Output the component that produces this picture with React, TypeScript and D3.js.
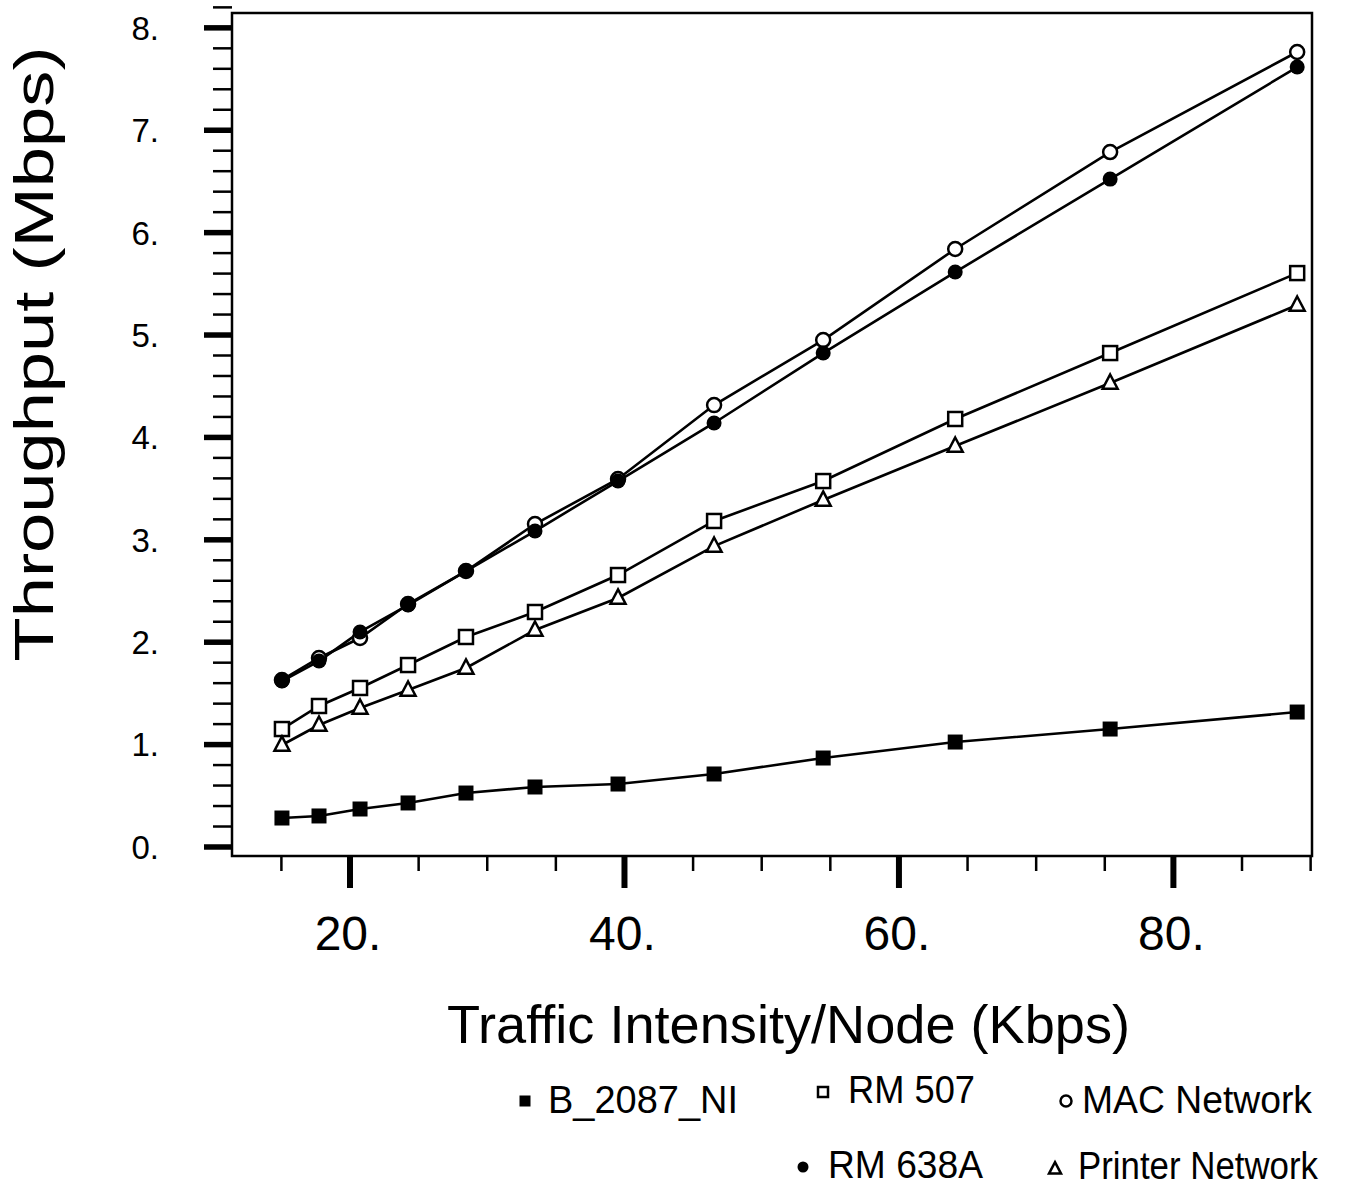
import React from "react";
import * as d3 from "d3";

const trafficKbps = [15.04, 17.74, 20.73, 24.23, 28.45, 33.48, 39.53, 46.53, 54.48, 64.1, 75.39, 89.02];
const b2087 = [0.283, 0.303, 0.371, 0.43, 0.527, 0.586, 0.615, 0.713, 0.869, 1.025, 1.152, 1.318];
const rm507 = [1.152, 1.377, 1.553, 1.777, 2.051, 2.295, 2.656, 3.184, 3.574, 4.18, 4.824, 5.605];
const macNetwork = [1.631, 1.846, 2.041, 2.373, 2.695, 3.154, 3.594, 4.316, 4.951, 5.84, 6.787, 7.764];
const rm638a = [1.621, 1.816, 2.1, 2.363, 2.695, 3.086, 3.574, 4.141, 4.824, 5.615, 6.523, 7.617];
const printerNetwork = [0.996, 1.191, 1.357, 1.533, 1.748, 2.119, 2.432, 2.939, 3.389, 3.916, 4.531, 5.293];

const yMajorTicks = [0, 1, 2, 3, 4, 5, 6, 7, 8];
const yTickLabels = ["0.", "1.", "2.", "3.", "4.", "5.", "6.", "7.", "8."];
const xMajorTicks = [20, 40, 60, 80];
const xTickLabels = ["20.", "40.", "60.", "80."];
const xMinorTicks = [15, 25, 30, 35, 45, 50, 55, 65, 70, 75, 85, 90];

const FONT = "'Liberation Sans', Arial, Helvetica, sans-serif";

type Shape = "filledSquare" | "openSquare" | "openCircle" | "filledCircle" | "triangle";

function Marker({ shape, cx, cy, s }: { shape: Shape; cx: number; cy: number; s: number }) {
  const sw = 2.5;
  if (shape === "filledSquare")
    return <rect x={cx - s / 2} y={cy - s / 2} width={s} height={s} fill="#000" />;
  if (shape === "openSquare")
    return <rect x={cx - s / 2} y={cy - s / 2} width={s} height={s} fill="#fff" stroke="#000" strokeWidth={sw} />;
  if (shape === "openCircle")
    return <circle cx={cx} cy={cy} r={s / 2} fill="#fff" stroke="#000" strokeWidth={sw} />;
  if (shape === "filledCircle") return <circle cx={cx} cy={cy} r={s / 2} fill="#000" />;
  const h = s * 0.95;
  return (
    <path
      d={`M${cx},${cy - h * 0.6} L${cx + s / 2},${cy + h * 0.4} L${cx - s / 2},${cy + h * 0.4} Z`}
      fill="#fff"
      stroke="#000"
      strokeWidth={sw}
      strokeLinejoin="miter"
    />
  );
}

export default function App() {
  const W = 1347,
    H = 1188;
  const left = 232,
    right = 1312,
    top = 13,
    bottom = 856;
  const x = d3.scaleLinear().domain([11.4, 90.1]).range([left, right]);
  const y = d3.scaleLinear().domain([-0.088, 8.145]).range([bottom, top]);

  const series: { name: string; vals: number[]; shape: Shape; size: number }[] = [
    { name: "B_2087_NI", vals: b2087, shape: "filledSquare", size: 15 },
    { name: "RM 507", vals: rm507, shape: "openSquare", size: 14 },
    { name: "Printer Network", vals: printerNetwork, shape: "triangle", size: 15 },
    { name: "MAC Network", vals: macNetwork, shape: "openCircle", size: 14 },
    { name: "RM 638A", vals: rm638a, shape: "filledCircle", size: 15 },
  ];

  const line = d3
    .line<number>()
    .x((_, i) => x(trafficKbps[i]))
    .y((d) => y(d));

  const yMinor = d3.range(0, 41).map((i) => i * 0.2 + 0.2).filter((v) => Math.abs(v - Math.round(v)) > 0.01);

  const legend: { label: string; shape: Shape; mx: number; my: number; tx: number; ty: number; tl: number; ms: number }[] = [
    { label: "B_2087_NI", shape: "filledSquare", mx: 525, my: 1101, tx: 548, ty: 1113, tl: 190, ms: 11 },
    { label: "RM 507", shape: "openSquare", mx: 823, my: 1092, tx: 848, ty: 1103, tl: 127, ms: 10 },
    { label: "MAC Network", shape: "openCircle", mx: 1066, my: 1101, tx: 1082, ty: 1113, tl: 230, ms: 11 },
    { label: "RM 638A", shape: "filledCircle", mx: 803, my: 1167, tx: 828, ty: 1178, tl: 155, ms: 11 },
    { label: "Printer Network", shape: "triangle", mx: 1055, my: 1169, tx: 1078, ty: 1179, tl: 240, ms: 12 },
  ];

  return (
    <svg
      width={W}
      height={H}
      style={{ position: "absolute", left: 0, top: 0, background: "#fff" }}
      fontFamily={FONT}
    >
      <rect x={0} y={0} width={W} height={H} fill="#fff" />
      {/* frame */}
      <rect x={left} y={top} width={right - left} height={bottom - top} fill="none" stroke="#000" strokeWidth={2.5} />

      {/* y ticks */}
      {yMinor.map((v) => (
        <line key={"ym" + v} x1={left - 19} x2={left} y1={y(v)} y2={y(v)} stroke="#000" strokeWidth={2.5} />
      ))}
      {yMajorTicks.map((v, i) => (
        <g key={"yM" + v}>
          <line x1={left - 28} x2={left} y1={y(v)} y2={y(v)} stroke="#000" strokeWidth={5.5} />
          <text x={159} y={y(v)} dy="0.36em" textAnchor="end" fontSize={33} fill="#000">
            {yTickLabels[i]}
          </text>
        </g>
      ))}

      {/* x ticks */}
      {xMinorTicks.map((v) => (
        <line key={"xm" + v} x1={x(v)} x2={x(v)} y1={bottom} y2={bottom + 15} stroke="#000" strokeWidth={2.5} />
      ))}
      {xMajorTicks.map((v, i) => (
        <g key={"xM" + v}>
          <line x1={x(v)} x2={x(v)} y1={bottom} y2={bottom + 32} stroke="#000" strokeWidth={6} />
          <text x={x(v) - 2} y={950} textAnchor="middle" fontSize={48} fill="#000">
            {xTickLabels[i]}
          </text>
        </g>
      ))}

      {/* axis titles */}
      <text x={447} y={1043} fontSize={54} fill="#000" textLength={683} lengthAdjust="spacingAndGlyphs">
        Traffic Intensity/Node (Kbps)
      </text>
      <text
        transform={`translate(53, 354) rotate(-90)`}
        textAnchor="middle"
        fontSize={55}
        fill="#000"
        textLength={615}
        lengthAdjust="spacingAndGlyphs"
      >
        Throughput (Mbps)
      </text>

      {/* series lines */}
      {series.map((s) => (
        <path key={"l" + s.name} d={line(s.vals) || ""} fill="none" stroke="#000" strokeWidth={2.6} />
      ))}
      {/* markers */}
      {series.map((s) => (
        <g key={"m" + s.name}>
          {s.vals.map((v, i) => (
            <Marker key={i} shape={s.shape} cx={x(trafficKbps[i])} cy={y(v)} s={s.size} />
          ))}
        </g>
      ))}

      {/* legend */}
      {legend.map((l) => (
        <g key={"lg" + l.label}>
          <Marker shape={l.shape} cx={l.mx} cy={l.my} s={l.ms} />
          <text x={l.tx} y={l.ty} fontSize={39} fill="#000" textLength={l.tl} lengthAdjust="spacingAndGlyphs">
            {l.label}
          </text>
        </g>
      ))}
    </svg>
  );
}
